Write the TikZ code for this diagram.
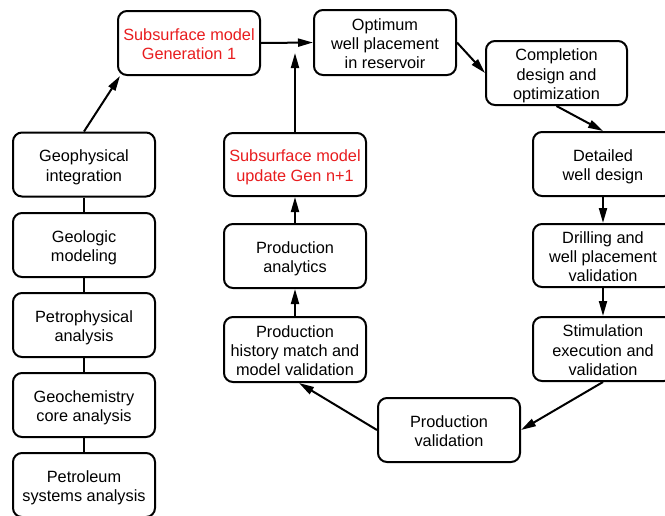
\documentclass[tikz,border=0pt]{standalone}
\usepackage{fontspec}
\setmainfont{Liberation Sans}
\usetikzlibrary{arrows.meta}
\definecolor{redtxt}{RGB}{232,28,30}
\tikzset{
  box/.style={draw, line width=2pt, rounded corners=9pt,
    minimum width=142pt, minimum height=64pt, inner sep=0pt},
  txt/.style={align=center, inner sep=0pt,
    font=\fontsize{16.3}{19.2}\selectfont,
    execute at begin node={\strut}, execute at end node={\strut}},
  redtext/.style={txt, text=redtxt},
  arr/.style={line width=2pt, -{Triangle[length=15pt,width=8pt]}},
  conn/.style={line width=2pt}
}
% #1 text style, #2 name, #3 position, #4 box options, #5 text
\newcommand\mkbox[5]{%
  \node[box,#4] (#2) at (#3) {};
  \node[#1] (#2-t) at ([yshift=-4pt]#2.center) {#5};}
\begin{document}
\begin{tikzpicture}[x=1pt,y=-1pt]
\useasboundingbox (0,0) rectangle (665,515);
% left column
\mkbox{txt}{geo}{84,164.5}{}{Geophysical\\integration}
\mkbox{txt}{geol}{84,245}{}{Geologic\\modeling}
\mkbox{txt}{petro}{84,325}{}{Petrophysical\\analysis}
\mkbox{txt}{geochem}{84,405}{}{Geochemistry\\core analysis}
\mkbox{txt}{petrol}{84,485}{}{Petroleum\\systems analysis}
% top row
\mkbox{redtext}{gen1}{189,43}{}{Subsurface model\\Generation 1}
\mkbox{txt}{opt}{385,42.5}{minimum height=65pt}{Optimum\\well placement\\in reservoir}
\mkbox{txt}{comp}{556.5,73}{minimum width=141pt}{Completion\\design and\\optimization}
% right column
\mkbox{txt}{det}{603,164}{minimum width=140pt}{Detailed\\well design}
\mkbox{txt}{drill}{603,255.5}{minimum width=140pt, minimum height=63pt}{Drilling and\\well placement\\validation}
\mkbox{txt}{stim}{603,349}{minimum width=140pt}{Stimulation\\execution and\\validation}
% middle column
\mkbox{redtext}{upd}{295,164.5}{minimum height=63pt}{Subsurface model\\update Gen n+1}
\mkbox{txt}{ana}{295,256}{}{Production\\analytics}
\mkbox{txt}{hist}{295,349.5}{minimum height=65pt}{Production\\history match and\\model validation}
\mkbox{txt}{pval}{449,430}{}{Production\\validation}
\coordinate (join) at (295,53);
% connectors
\draw[conn] (geo) -- (geol);
\draw[conn] (geol) -- (petro);
\draw[conn] (petro) -- (geochem);
\draw[conn] (geochem) -- (petrol);
\draw[arr] (geo.north) -- ([xshift=3pt]gen1.south west);
\draw[arr] (gen1.east) -- (opt.west);
\draw[arr] (opt.east) -- (comp.west);
\draw[arr] (comp.south) -- (det.north);
\draw[arr] (det) -- (drill);
\draw[arr] (drill) -- (stim);
\draw[arr] (stim.south) -- (pval.east);
\draw[arr] (pval.west) -- ([xshift=4pt]hist.south);
\draw[arr] (hist) -- (ana);
\draw[arr] (ana) -- (upd);
\draw[arr] (upd.north) -- (join);
\end{tikzpicture}
\end{document}
